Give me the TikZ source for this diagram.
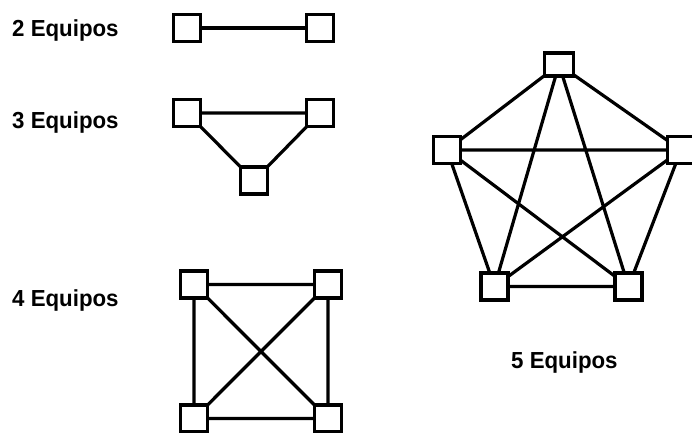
\documentclass[tikz,border=0pt]{standalone}
\usepackage{fontspec}
\setmainfont{Liberation Sans}
\newfontfamily\rotulofont[FakeStretch=0.96]{Liberation Sans}
\begin{document}
\begin{tikzpicture}[x=1pt,y=-1pt,
  equipo/.style={draw=black,line width=3.4pt,minimum size=27pt,inner sep=0pt,outer sep=0pt,fill=white},
  enlace/.style={draw=black,line width=3.2pt},
  rotulo/.style={anchor=base west,inner sep=0pt,font=\rotulofont\bfseries\fontsize{23.2}{27}\selectfont}]
\useasboundingbox[fill=white] (0,0) rectangle (692,432);

% 2 equipos
\node[equipo] (a1) at (187,28) {};
\node[equipo] (a2) at (320,28) {};
\draw[enlace] (a1) -- (a2);
\node[rotulo] (ta) at (12,36.8) {2 Equipos};

% 3 equipos
\node[equipo] (b1) at (187,113) {};
\node[equipo] (b2) at (320,113) {};
\node[equipo] (b3) at (254,180.5) {};
\draw[enlace] (b1) -- (b2) (b1) -- (b3) (b2) -- (b3);
\node[rotulo] (tb) at (12,128) {3 Equipos};

% 4 equipos
\node[equipo] (c1) at (194,284.5) {};
\node[equipo] (c2) at (328,284.5) {};
\node[equipo] (c3) at (194,418.5) {};
\node[equipo] (c4) at (328,418.5) {};
\draw[enlace] (c1) -- (c2) (c3) -- (c4) (c1) -- (c3) (c2) -- (c4)
              (c1) -- (c4) (c2) -- (c3);
\node[rotulo] (tc) at (12,306.5) {4 Equipos};

% 5 equipos
\node[equipo,minimum width=29pt,minimum height=23pt] (d1) at (559,64.5) {};
\node[equipo] (d2) at (447,150) {};
\node[equipo] (d3) at (681,150) {};
\node[equipo] (d4) at (494.5,286.5) {};
\node[equipo] (d5) at (628.5,286.5) {};
\draw[enlace] (d1) -- (d2) (d1) -- (d3) (d1) -- (d4) (d1) -- (d5)
              (d2) -- (d3) (d2) -- (d4) (d2) -- (d5)
              (d3) -- (d4) (d3) -- (d5) (d4) -- (d5);
\node[rotulo] (td) at (511,368) {5 Equipos};
\end{tikzpicture}
\end{document}
